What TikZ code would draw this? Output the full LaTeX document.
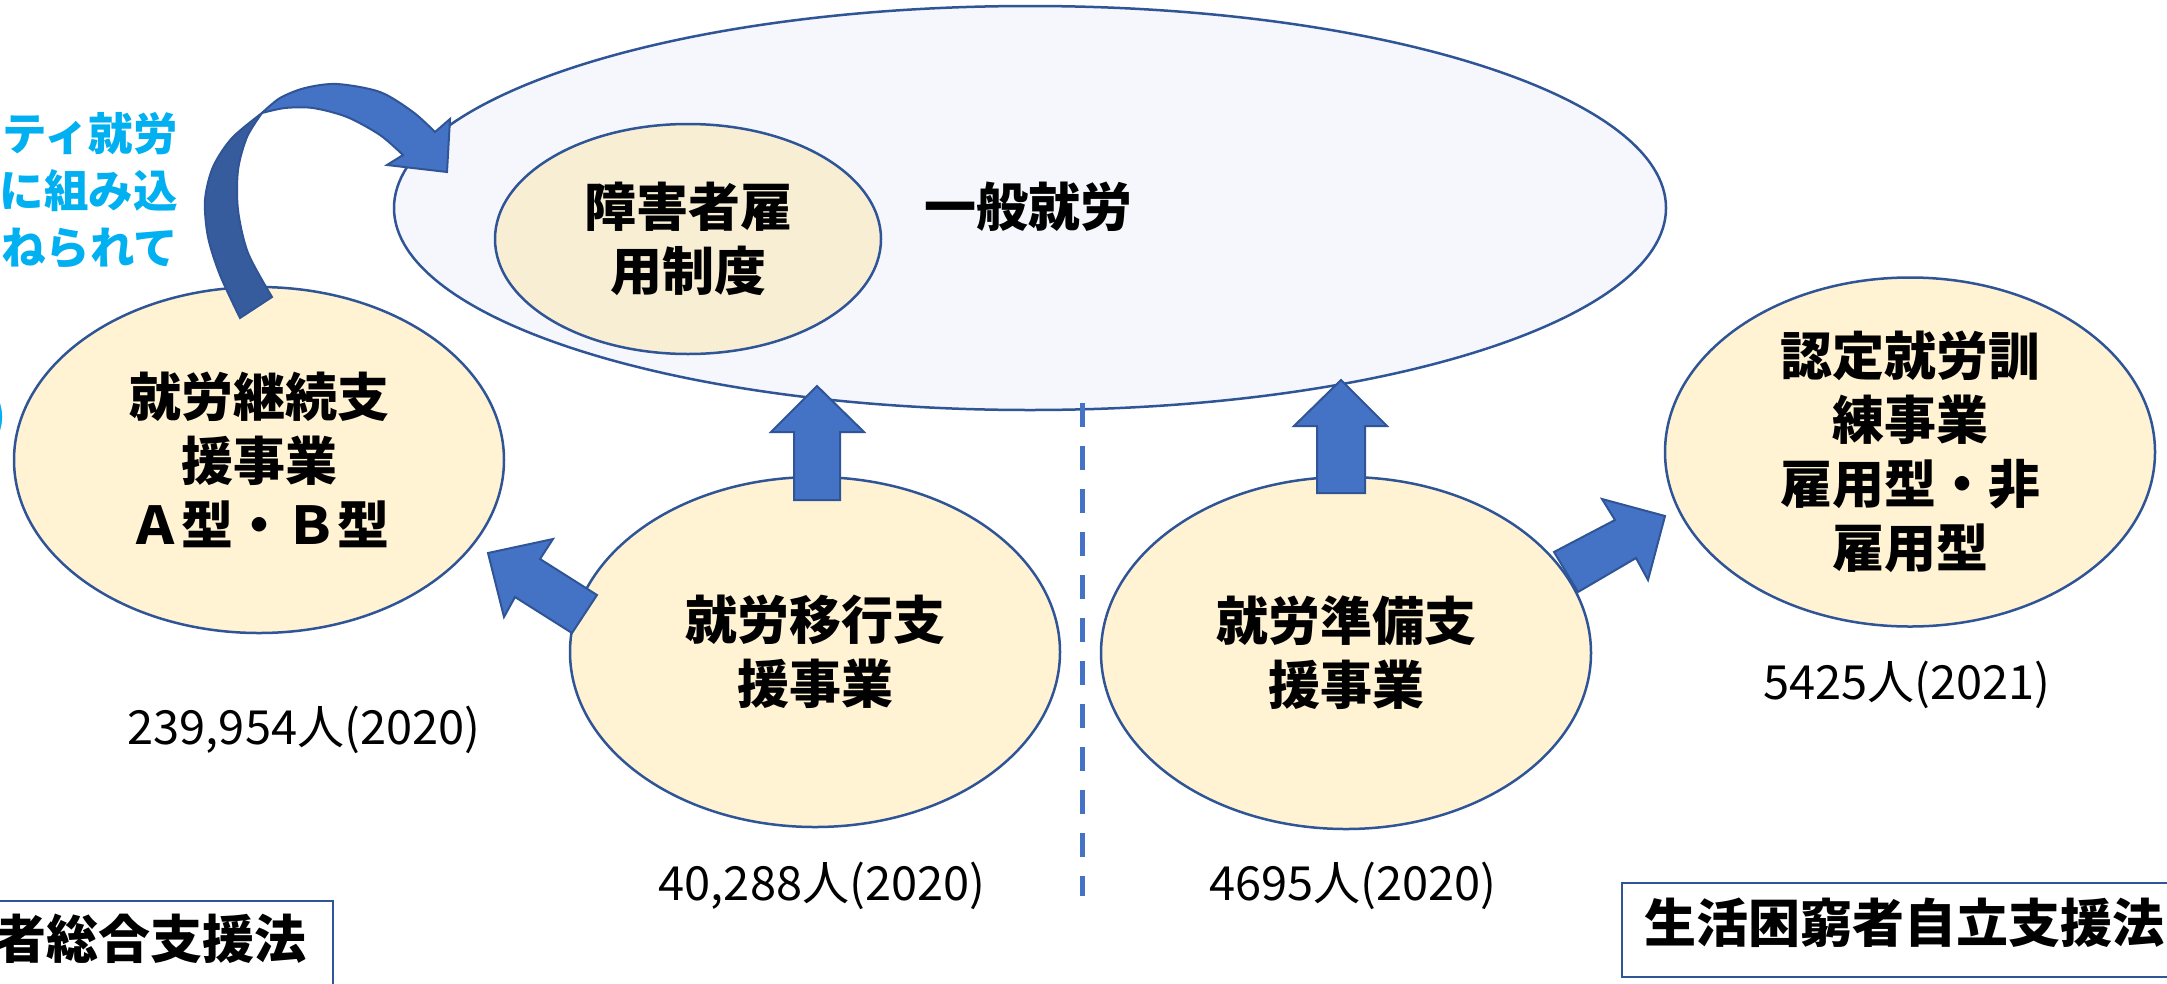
\documentclass[tikz,border=0pt]{standalone}
\usepackage{fontspec}
\newfontfamily\jp{Noto Sans CJK JP}
\usetikzlibrary{shapes.geometric}
\definecolor{edge}{HTML}{2F5597}
\definecolor{arrowblue}{HTML}{4472C4}
\definecolor{arrowdark}{HTML}{365C9E}
\definecolor{cream}{HTML}{FFF3D4}
\definecolor{beige}{HTML}{F7EED4}
\definecolor{pale}{HTML}{F5F7FC}
\definecolor{cyantext}{HTML}{00B0F0}
\begin{document}
\begin{tikzpicture}[x=1pt,y=-1pt,
  oval/.style={ellipse, draw=edge, line width=2.5pt, inner sep=0pt},
  bigtext/.style={font=\jp\bfseries\fontsize{52}{64}\selectfont, align=center, inner sep=0pt},
  numtext/.style={font=\jp\fontsize{47}{56}\selectfont, inner sep=0pt},
  blockarrow/.style={fill=arrowblue, draw=edge, line width=2pt, line join=miter},
  lawbox/.style={draw=edge, line width=2pt, fill=white, inner sep=0pt},
  lawtext/.style={font=\jp\bfseries\fontsize{52}{64}\selectfont, inner sep=0pt},
  notetext/.style={font=\jp\bfseries\fontsize{44.5}{57}\selectfont, text=cyantext, inner sep=0pt}
]
\path[use as bounding box, fill=white] (0,0) rectangle (2167,983);

% general employment
\node[oval, fill=pale, minimum width=1272pt, minimum height=404pt] (ippan) at (1030,208) {};
\node[oval, fill=beige, minimum width=386pt, minimum height=230pt] (koyou) at (688,239) {};
\node[bigtext] (koyou-t) at (koyou.center) {障害者雇\\用制度};
\node[bigtext] (ippan-t) at (1028,207) {一般就労};

% programme ellipses
\node[oval, fill=cream, minimum width=490pt, minimum height=346pt] (keizoku) at (259,460) {};
\node[bigtext] (keizoku-t) at (keizoku.center) {就労継続支\\援事業\\Ａ型・Ｂ型};
\node[oval, fill=cream, minimum width=490pt, minimum height=350pt] (ikou) at (815,652) {};
\node[bigtext] (ikou-t) at (ikou.center) {就労移行支\\援事業};
\node[oval, fill=cream, minimum width=490pt, minimum height=352pt] (junbi) at (1346,653) {};
\node[bigtext] (junbi-t) at (junbi.center) {就労準備支\\援事業};
\node[oval, fill=cream, minimum width=490pt, minimum height=349pt] (kunren) at (1910,452) {};
\node[bigtext] (kunren-t) at (kunren.center) {認定就労訓\\練事業\\雇用型・非\\雇用型};

% curved arrow from keizoku to ippan
\draw[fill=arrowdark, draw=edge, line width=2pt] (240,318) -- plot[smooth] coordinates {(240,318) (220,275) (208,237) (205,200) (213,167) (232,138) (262,113)} -- plot[smooth] coordinates {(262,113) (247,137) (238,170) (238,210) (248,253) (272,297)} -- cycle;
\draw[fill=arrowblue, draw=edge, line width=2pt] (262,113) -- plot[smooth] coordinates {(262,113) (280,98) (305,88) (337,84) (380,92) (413,112) (435,132)} -- (450,119) -- (447,172) -- (387,165) -- (403,155) -- plot[smooth] coordinates {(403,155) (380,135) (347,117) (313,108) (285,108) (262,113)} -- cycle;

% block arrows
\draw[blockarrow] (794,500) -- (794,432) -- (771,432) -- (817,386) -- (864,432) -- (840,432) -- (840,500) -- cycle;
\draw[blockarrow] (1317,493) -- (1317,426) -- (1294,426) -- (1341,380) -- (1387,426) -- (1365,426) -- (1365,493) -- cycle;
\draw[blockarrow] (597,595) -- (540,559) -- (553,539) -- (488,553) -- (504,617) -- (515,597) -- (572,633) -- cycle;
\draw[blockarrow] (1554,552) -- (1615,520) -- (1602,499) -- (1665,516) -- (1648,580) -- (1636,558) -- (1578,592) -- cycle;

% dashed divider
\coordinate (dtop) at (1082,403);
\coordinate (dbot) at (1082,896);
\draw[arrowblue, line width=5pt, dash pattern=on 24pt off 19pt] (dtop) -- (dbot);

% numbers
\node[numtext] (n1) at (304,730) {239,954人(2020)};
\node[numtext] (n2) at (822,886) {40,288人(2020)};
\node[numtext] (n3) at (1353,886) {4695人(2020)};
\node[numtext] (n4) at (1907,685) {5425人(2021)};

% law boxes
\node[lawbox, anchor=north east, minimum width=420pt, minimum height=100pt] (law1) at (334,900) {};
\node[lawtext, anchor=east] (law1-t) at (307,939) {者総合支援法};
\node[lawbox, anchor=north west, minimum width=600pt, minimum height=94pt] (law2) at (1621,882) {};
\node[lawtext, anchor=west] (law2-t) at (1644,923) {生活困窮者自立支援法};

% cyan note (cut off at the left edge)
\node[notetext, align=right, anchor=east] (note) at (178,191) {ティ就労\\に組み込\\ねられて};
\node[notetext, anchor=east] (paren) at (6,417) {)};
\end{tikzpicture}
\end{document}
